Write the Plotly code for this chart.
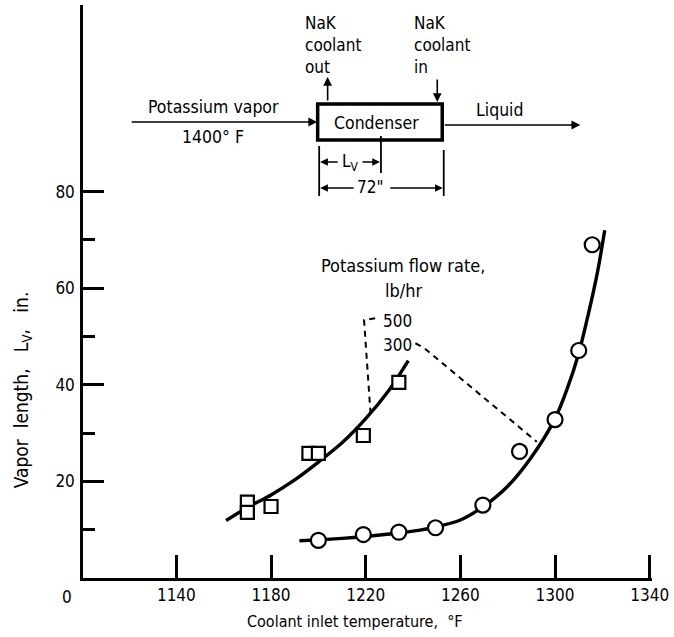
import plotly.graph_objects as go

# ---------------- data ----------------
# 500 lb/hr potassium flow rate (squares)
t500 = [1170, 1170, 1180, 1196, 1200, 1219, 1234]
v500 = [15.7, 13.6, 14.8, 25.8, 25.8, 29.5, 40.5]
# faired curve for 500 lb/hr
t500_curve = [1161, 1170, 1180, 1190, 1200, 1210, 1220, 1230, 1238]
v500_curve = [11.9, 14.6, 17.2, 20.3, 24.0, 28.0, 33.0, 39.0, 45.0]

# 300 lb/hr potassium flow rate (circles)
t300 = [1200, 1219, 1234, 1249.5, 1269.5, 1285, 1300, 1310, 1315.7]
v300 = [7.8, 9.0, 9.5, 10.4, 15.1, 26.2, 32.8, 47.1, 69.0]
# faired curve for 300 lb/hr
t300_curve = [1192, 1200, 1210, 1220, 1230, 1240, 1250, 1260, 1270, 1280,
              1290, 1300, 1305, 1310, 1314, 1318, 1321]
v300_curve = [7.7, 7.9, 8.2, 8.6, 9.1, 9.7, 10.6, 12.0, 14.9, 19.0,
              25.0, 33.0, 39.0, 46.5, 54.5, 63.5, 72.0]

x_ticks = [1140, 1180, 1220, 1260, 1300, 1340]
y_ticks = [20, 40, 60, 80]
y_minor = [10, 30, 50, 70]

FONT = "DejaVu Sans Condensed, Liberation Sans Narrow, Arial Narrow, sans-serif"

# ---------------- geometry helpers (pixels -> paper) ----------------
W, H = 674, 637
ML, MR, MT, MB = 83, 20, 5, 59
PL, PR, PT, PB = ML, W - MR, MT, H - MB
PX_PER_F = 2.375
PX_PER_IN = 4.83


def xp(px):
    return (px - PL) / (PR - PL)


def yp(py):
    return (PB - py) / (PB - PT)


fig = go.Figure()

# curves
fig.add_trace(go.Scatter(x=t500_curve, y=v500_curve, mode="lines",
                         line=dict(color="black", width=3.4, shape="spline", smoothing=0.8),
                         showlegend=False, hoverinfo="skip"))
fig.add_trace(go.Scatter(x=t300_curve, y=v300_curve, mode="lines",
                         line=dict(color="black", width=3.4, shape="spline", smoothing=0.8),
                         showlegend=False, hoverinfo="skip"))
# data points
fig.add_trace(go.Scatter(x=t500, y=v500, mode="markers",
                         marker=dict(symbol="square", size=13, color="white",
                                     line=dict(color="black", width=2.2)),
                         showlegend=False))
fig.add_trace(go.Scatter(x=t300, y=v300, mode="markers",
                         marker=dict(symbol="circle", size=15, color="white",
                                     line=dict(color="black", width=2.2)),
                         showlegend=False))

# leader lines (dashed)
fig.add_trace(go.Scatter(x=[1224.0, 1219.3, 1222.1], y=[53.8, 53.4, 33.7], mode="lines",
                         line=dict(color="black", width=2, dash="6px,5px"),
                         showlegend=False, hoverinfo="skip"))
fig.add_trace(go.Scatter(x=[1241.0, 1244.5, 1292.3], y=[48.6, 47.7, 28.2], mode="lines",
                         line=dict(color="black", width=2, dash="6px,5px"),
                         showlegend=False, hoverinfo="skip"))

shapes = []
annos = []


def pline(x0, y0, x1, y1, w=1.8):
    shapes.append(dict(type="line", xref="paper", yref="paper",
                       x0=xp(x0), y0=yp(y0), x1=xp(x1), y1=yp(y1),
                       line=dict(color="black", width=w)))


def arrow(tx, ty, hx, hy, w=1.6):
    annos.append(dict(xref="paper", yref="paper", x=xp(hx), y=yp(hy),
                      ax=tx - hx, ay=ty - hy, axref="pixel", ayref="pixel",
                      text="", showarrow=True, arrowhead=2, arrowsize=1.1,
                      arrowwidth=w, arrowcolor="black"))


def text(px, py, s, size=17, xanchor="center", yanchor="middle", align="center"):
    annos.append(dict(xref="paper", yref="paper", x=xp(px), y=yp(py), text=s,
                      showarrow=False, xanchor=xanchor, yanchor=yanchor, align=align,
                      font=dict(family=FONT, size=size, color="black")))


# condenser box
shapes.append(dict(type="rect", xref="paper", yref="paper",
                   x0=xp(318.5), y0=yp(104), x1=xp(443.5), y1=yp(140),
                   line=dict(color="black", width=3.5), fillcolor="white"))
# flow arrows
arrow(131, 122, 318, 122)
arrow(445, 125, 582, 125)
arrow(328.5, 102, 328.5, 77)
arrow(438.5, 78, 438.5, 102)
# dimension lines
pline(320, 146, 320, 196)
pline(382, 136, 382, 173)
pline(445, 150, 445, 196)
arrow(340, 162, 321, 162, 1.4)
arrow(362, 162, 381, 162, 1.4)
arrow(356, 188, 321, 188, 1.4)
arrow(390, 188, 444, 188, 1.4)

# diagram texts
text(304, 11, "NaK<br>coolant<br>out", xanchor="left", yanchor="top", align="left")
text(413, 11, "NaK<br>coolant<br>in", xanchor="left", yanchor="top", align="left")
text(214, 107, "Potassium vapor", size=17.5)
text(213, 137, "1400° F", size=17.5)
text(378, 123, "Condenser", size=17.5)
text(501, 110, "Liquid", size=17.5)
text(351, 162, "L<sub>V</sub>")
text(372, 187, "72\"")

# chart labels
text(404, 265, "Potassium flow rate,", size=18)
text(405, 290, "lb/hr", size=18)
text(399, 321, "500")
text(399, 345, "300")
text(67, 597, "0")
text(356, 621, "Coolant inlet temperature,  °F", size=16)
annos.append(dict(xref="paper", yref="paper", x=xp(22), y=yp(390),
                  text="Vapor  length,   L<sub>V</sub>,   in.", textangle=-90,
                  showarrow=False, xanchor="center", yanchor="middle",
                  font=dict(family=FONT, size=19, color="black")))

x0 = 1140 - (176.7 - PL) / PX_PER_F
x1 = x0 + (PR - PL) / PX_PER_F

fig.update_layout(
    width=W, height=H,
    margin=dict(l=ML, r=MR, t=MT, b=MB, pad=0),
    paper_bgcolor="white", plot_bgcolor="white",
    shapes=shapes, annotations=annos,
    showlegend=False,
    xaxis=dict(range=[x0, x1], tickvals=x_ticks,
               ticktext=[str(t) for t in x_ticks],
               showgrid=False, zeroline=False, showline=True,
               linecolor="black", linewidth=2.5,
               ticks="inside", ticklen=23, tickwidth=2.5, tickcolor="black",
               ticklabelstandoff=0,
               tickfont=dict(family=FONT, size=17, color="black")),
    yaxis=dict(range=[0, (PB - PT) / PX_PER_IN], tickvals=y_ticks,
               showgrid=False, zeroline=False, showline=True,
               linecolor="black", linewidth=2.5,
               ticks="inside", ticklen=21, tickwidth=2.5, tickcolor="black",
               ticklabelstandoff=2,
               minor=dict(tickvals=y_minor, ticks="inside", ticklen=12,
                          tickwidth=2.5, tickcolor="black"),
               tickfont=dict(family=FONT, size=17, color="black")),
)

fig.write_html("out.html")
